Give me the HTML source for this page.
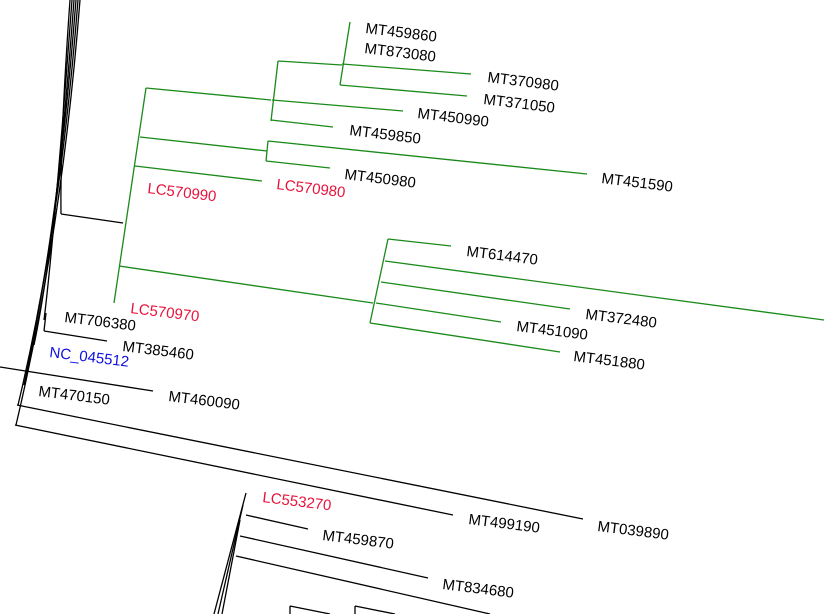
<!DOCTYPE html>
<html><head><meta charset="utf-8"><style>
html,body{margin:0;padding:0;background:#fff;width:824px;height:614px;overflow:hidden}
svg text{font-family:"Liberation Sans",sans-serif;font-size:15px}
</style></head><body>
<svg width="824" height="614" viewBox="0 0 824 614" xmlns="http://www.w3.org/2000/svg">
<g stroke="#000" stroke-width="1.3" fill="none">
<path d="M80,0 Q62,230 16,425"/>
<path d="M78,0 Q60,230 18,405"/>
<path d="M76,0 Q58,230 24,385"/>
<path d="M74,0 Q56,240 34,345"/>
<path d="M72,0 Q54,240 44,320"/>
<path d="M70,0 Q60,140 61,214"/>
<line x1="61" y1="214" x2="123" y2="223"/>
<line x1="46" y1="313" x2="44" y2="331"/>
<line x1="44" y1="331" x2="107" y2="341"/>
<line x1="0" y1="367" x2="153" y2="391"/>
<line x1="17" y1="405" x2="583" y2="519"/>
<line x1="15" y1="425" x2="453" y2="515"/>
<line x1="246" y1="493" x2="214" y2="614"/>
<line x1="243" y1="505" x2="218" y2="614"/>
<line x1="240" y1="520" x2="222" y2="614"/>
<line x1="246" y1="515" x2="308" y2="529"/>
<line x1="240" y1="536" x2="428" y2="578"/>
<line x1="236" y1="556" x2="490" y2="614"/>
<line x1="290" y1="614" x2="290" y2="606"/><line x1="290" y1="606" x2="330" y2="614"/>
<line x1="355" y1="614" x2="355" y2="606"/><line x1="355" y1="606" x2="395" y2="614"/>
</g>
<g stroke="#1a8a1a" stroke-width="1.3" fill="none">
<line x1="146" y1="88" x2="114" y2="303"/>
<line x1="146" y1="88" x2="271" y2="100"/>
<line x1="278" y1="61" x2="271" y2="121"/>
<line x1="278" y1="61" x2="342" y2="65"/>
<line x1="350" y1="22" x2="340" y2="85"/>
<line x1="342" y1="64" x2="471" y2="74"/>
<line x1="340" y1="85" x2="467" y2="96"/>
<line x1="272" y1="100" x2="403" y2="111"/>
<line x1="271" y1="120" x2="333" y2="127"/>
<line x1="140" y1="137" x2="267" y2="151"/>
<line x1="268" y1="141" x2="266" y2="161"/>
<line x1="268" y1="141" x2="587" y2="174"/>
<line x1="266" y1="161" x2="330" y2="168"/>
<line x1="135" y1="166" x2="262" y2="181"/>
<line x1="119" y1="266" x2="373" y2="303"/>
<line x1="388" y1="239" x2="370" y2="323"/>
<line x1="388" y1="239" x2="451" y2="246"/>
<line x1="385" y1="261" x2="824" y2="320"/>
<line x1="381" y1="282" x2="570" y2="309"/>
<line x1="376" y1="303" x2="501" y2="322"/>
<line x1="370" y1="323" x2="560" y2="352"/>
</g>
<g fill="#000">
<text x="365" y="33" transform="rotate(7 365 33)">MT459860</text>
<text x="364" y="53" transform="rotate(7 364 53)">MT873080</text>
<text x="487" y="82" transform="rotate(7 487 82)">MT370980</text>
<text x="483" y="104" transform="rotate(7 483 104)">MT371050</text>
<text x="417" y="118" transform="rotate(7 417 118)">MT450990</text>
<text x="349" y="135" transform="rotate(7 349 135)">MT459850</text>
<text x="344" y="179" transform="rotate(7 344 179)">MT450980</text>
<text x="601" y="183" transform="rotate(7 601 183)">MT451590</text>
<text x="466" y="256" transform="rotate(7 466 256)">MT614470</text>
<text x="585" y="319" transform="rotate(7 585 319)">MT372480</text>
<text x="516" y="331" transform="rotate(7 516 331)">MT451090</text>
<text x="573" y="361" transform="rotate(7 573 361)">MT451880</text>
<text x="64" y="322" transform="rotate(7 64 322)">MT706380</text>
<text x="122" y="351" transform="rotate(7 122 351)">MT385460</text>
<text x="38" y="396" transform="rotate(7 38 396)">MT470150</text>
<text x="168" y="401" transform="rotate(7 168 401)">MT460090</text>
<text x="468" y="524" transform="rotate(7 468 524)">MT499190</text>
<text x="597" y="531" transform="rotate(7 597 531)">MT039890</text>
<text x="322" y="540" transform="rotate(7 322 540)">MT459870</text>
<text x="442" y="589" transform="rotate(7 442 589)">MT834680</text>
</g>
<g fill="#e8143c">
<text x="147" y="193" transform="rotate(7 147 193)">LC570990</text>
<text x="276" y="189" transform="rotate(7 276 189)">LC570980</text>
<text x="130" y="313" transform="rotate(7 130 313)">LC570970</text>
<text x="262" y="502" transform="rotate(7 262 502)">LC553270</text>
</g>
<text x="49" y="357" fill="#1010e0" transform="rotate(7 49 357)">NC_045512</text>
</svg>
</body></html>
